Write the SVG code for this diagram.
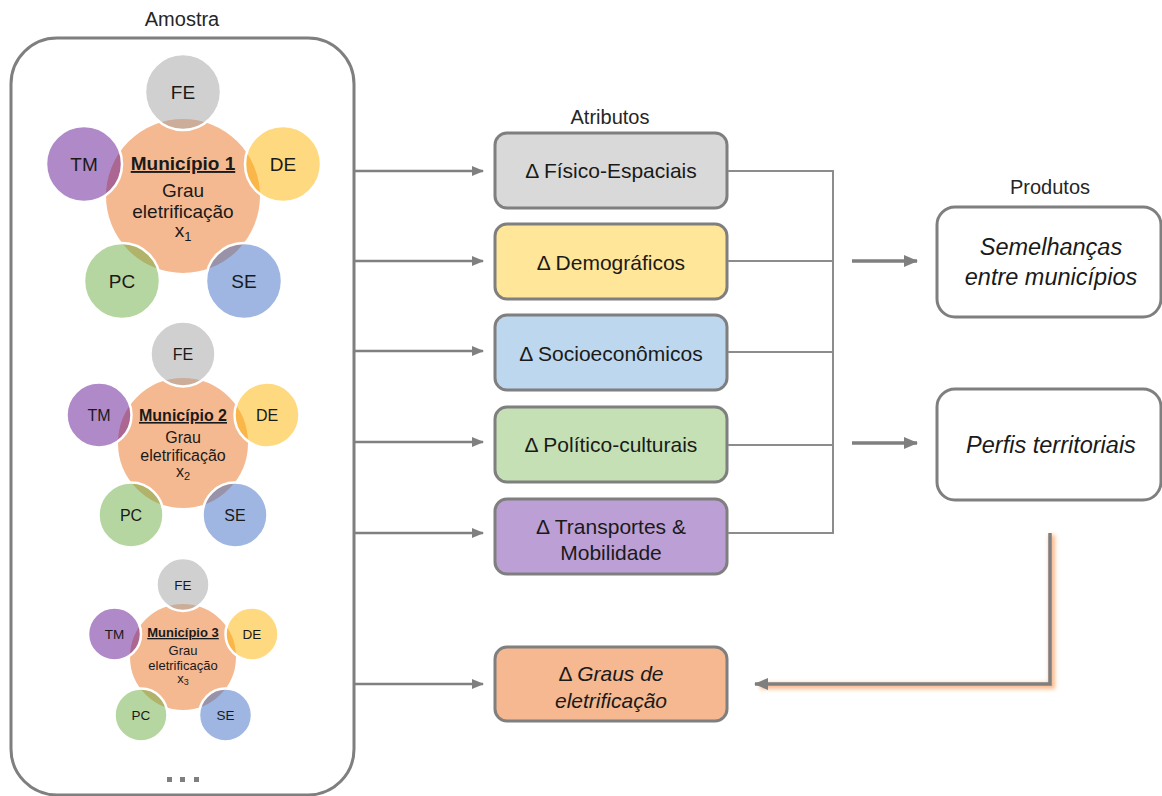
<svg xmlns="http://www.w3.org/2000/svg" width="1162" height="796" viewBox="0 0 1162 796">
  <style>
    text { font-family: "Liberation Sans", Arial, sans-serif; fill: #1a1a1a; }
    .title { font-size: 20px; text-anchor: middle; fill: #262626; }
    .sat { stroke: #ffffff; stroke-width: 2.5; fill-opacity: 0.5; }
    .core { fill: #f5b991; stroke: #ffffff; stroke-width: 2; }
    .fe { fill: #a1a1a1; }
    .tm { fill: #611591; }
    .de { fill: #ffb300; }
    .pc { fill: #6bad41; }
    .se { fill: #3d6dc3; }
    .lbl { text-anchor: middle; }
    .mun { font-weight: bold; text-decoration: underline; text-anchor: middle; }
    .box { stroke: #7f7f7f; stroke-width: 3; }
    .btxt { font-size: 21px; text-anchor: middle; }
    .ptxt { font-size: 23.5px; text-anchor: middle; font-style: italic; }
    .arr { stroke: #808080; stroke-width: 2.5; fill: none; }
    .join { stroke: #8c8c8c; stroke-width: 2; fill: none; }
    .thick { stroke: #7f7f7f; stroke-width: 3.5; fill: none; }
  </style>
  <defs>
    <marker id="head" markerUnits="userSpaceOnUse" markerWidth="12" markerHeight="10" refX="11" refY="5" orient="auto">
      <path d="M0,0 L12,5 L0,10 z" fill="#808080"/>
    </marker>
    <marker id="headBig" markerUnits="userSpaceOnUse" markerWidth="14" markerHeight="12" refX="13" refY="6" orient="auto">
      <path d="M0,0 L14,6 L0,12 z" fill="#7f7f7f"/>
    </marker>
    <filter id="glow" x="-20%" y="-20%" width="140%" height="140%">
      <feGaussianBlur stdDeviation="2.2"/>
    </filter>
  </defs>

  <rect width="1162" height="796" fill="#ffffff"/>

  <!-- Sample container -->
  <g id="amostra">
    <text class="title" x="182" y="26">Amostra</text>
    <rect x="11" y="38" width="343" height="757" rx="46" ry="46" fill="none" stroke="#7f7f7f" stroke-width="3"/>
    <rect x="167" y="777" width="5" height="5" fill="#7f7f7f"/>
    <rect x="180" y="777" width="5" height="5" fill="#7f7f7f"/>
    <rect x="194" y="777" width="5" height="5" fill="#7f7f7f"/>
  </g>

  <!-- Municipality 1 -->
  <g id="municipio1">
    <circle class="core" cx="183" cy="196" r="78"/>
    <circle class="sat fe" cx="183" cy="92" r="38"/>
    <circle class="sat de" cx="283" cy="164" r="38"/>
    <circle class="sat se" cx="244" cy="281" r="38"/>
    <circle class="sat pc" cx="122" cy="281" r="38"/>
    <circle class="sat tm" cx="84" cy="164" r="38"/>
    <g font-size="19">
      <text class="lbl" x="183" y="99">FE</text>
      <text class="lbl" x="283" y="171">DE</text>
      <text class="lbl" x="244" y="288">SE</text>
      <text class="lbl" x="122" y="288">PC</text>
      <text class="lbl" x="84" y="171">TM</text>
      <text class="mun" x="183" y="170">Município 1</text>
      <text class="lbl" x="183" y="197">Grau</text>
      <text class="lbl" x="183" y="218">eletrificação</text>
      <text class="lbl" x="183" y="237">x<tspan font-size="13" dy="4">1</tspan></text>
    </g>
  </g>

  <!-- Municipality 2 -->
  <g id="municipio2">
    <circle class="core" cx="183" cy="443" r="66"/>
    <circle class="sat fe" cx="183" cy="354" r="32.5"/>
    <circle class="sat de" cx="267" cy="415" r="32.5"/>
    <circle class="sat se" cx="235" cy="515" r="32.5"/>
    <circle class="sat pc" cx="131" cy="515" r="32.5"/>
    <circle class="sat tm" cx="99" cy="415" r="32.5"/>
    <g font-size="16">
      <text class="lbl" x="183" y="360">FE</text>
      <text class="lbl" x="267" y="421">DE</text>
      <text class="lbl" x="235" y="521">SE</text>
      <text class="lbl" x="131" y="521">PC</text>
      <text class="lbl" x="99" y="421">TM</text>
      <text class="mun" x="183" y="421">Município 2</text>
      <text class="lbl" x="183" y="443">Grau</text>
      <text class="lbl" x="183" y="461">eletrificação</text>
      <text class="lbl" x="183" y="477">x<tspan font-size="11" dy="3">2</tspan></text>
    </g>
  </g>

  <!-- Municipality 3 -->
  <g id="municipio3">
    <circle class="core" cx="183" cy="657" r="54"/>
    <circle class="sat fe" cx="183" cy="584.5" r="26.5"/>
    <circle class="sat de" cx="252" cy="634" r="26.5"/>
    <circle class="sat se" cx="225.5" cy="715" r="26.5"/>
    <circle class="sat pc" cx="141" cy="715" r="26.5"/>
    <circle class="sat tm" cx="114.5" cy="634" r="26.5"/>
    <g font-size="13.5">
      <text class="lbl" x="183" y="589.5">FE</text>
      <text class="lbl" x="252" y="639">DE</text>
      <text class="lbl" x="225.5" y="720">SE</text>
      <text class="lbl" x="141" y="720">PC</text>
      <text class="lbl" x="114.5" y="639">TM</text>
    </g>
    <g font-size="13">
      <text class="mun" x="183" y="637">Município 3</text>
      <text class="lbl" x="183" y="655">Grau</text>
      <text class="lbl" x="183" y="670">eletrificação</text>
      <text class="lbl" x="183" y="683" fill="#555555">x<tspan font-size="9" dy="2">3</tspan></text>
    </g>
  </g>

  <!-- Attributes -->
  <text class="title" x="610" y="124">Atributos</text>
  <g id="attr-fisico">
    <rect class="box" x="495" y="133" width="232" height="75" rx="12" fill="#d9d9d9"/>
    <text class="btxt" x="611" y="178">Δ Físico-Espaciais</text>
  </g>
  <g id="attr-demograficos">
    <rect class="box" x="495" y="224" width="232" height="75" rx="12" fill="#ffe699"/>
    <text class="btxt" x="611" y="270">Δ Demográficos</text>
  </g>
  <g id="attr-socio">
    <rect class="box" x="495" y="315" width="232" height="75" rx="12" fill="#bdd7ee"/>
    <text class="btxt" x="611" y="361">Δ Socioeconômicos</text>
  </g>
  <g id="attr-politico">
    <rect class="box" x="495" y="407" width="232" height="75" rx="12" fill="#c5e0b4"/>
    <text class="btxt" x="611" y="452">Δ Político-culturais</text>
  </g>
  <g id="attr-transportes">
    <rect class="box" x="495" y="499" width="232" height="75" rx="12" fill="#bc9fd4"/>
    <text class="btxt" x="611" y="534">Δ Transportes &amp;</text>
    <text class="btxt" x="611" y="560">Mobilidade</text>
  </g>
  <g id="attr-graus">
    <rect class="box" x="495" y="647" width="232" height="74" rx="12" fill="#f5b891"/>
    <text class="btxt" x="611" y="681">Δ <tspan font-style="italic">Graus de</tspan></text>
    <text class="btxt" x="611" y="708" font-style="italic">eletrificação</text>
  </g>

  <!-- Products -->
  <text class="title" x="1050" y="194">Produtos</text>
  <g id="prod-semelhancas">
    <rect class="box" x="937" y="207" width="224" height="110" rx="18" fill="#ffffff"/>
    <text class="ptxt" x="1051" y="255">Semelhanças</text>
    <text class="ptxt" x="1051" y="285">entre municípios</text>
  </g>
  <g id="prod-perfis">
    <rect class="box" x="937" y="389" width="224" height="111" rx="18" fill="#ffffff"/>
    <text class="ptxt" x="1051" y="453">Perfis territoriais</text>
  </g>

  <!-- Connectors -->
  <g id="connectors">
    <line class="arr" x1="355" y1="171" x2="483" y2="171" marker-end="url(#head)"/>
    <line class="arr" x1="355" y1="261" x2="483" y2="261" marker-end="url(#head)"/>
    <line class="arr" x1="355" y1="351" x2="483" y2="351" marker-end="url(#head)"/>
    <line class="arr" x1="355" y1="442" x2="483" y2="442" marker-end="url(#head)"/>
    <line class="arr" x1="355" y1="533" x2="483" y2="533" marker-end="url(#head)"/>
    <line class="arr" x1="355" y1="684" x2="483" y2="684" marker-end="url(#head)"/>

    <polyline class="join" points="728,171 833,171 833,533 728,533"/>
    <line class="join" x1="728" y1="261" x2="833" y2="261"/>
    <line class="join" x1="728" y1="352" x2="833" y2="352"/>
    <line class="join" x1="728" y1="445" x2="833" y2="445"/>

    <line class="thick" x1="852" y1="261" x2="917" y2="261" marker-end="url(#headBig)"/>
    <line class="thick" x1="852" y1="443" x2="917" y2="443" marker-end="url(#headBig)"/>

    <polyline points="1052,535 1052,686 760,686" fill="none" stroke="#f8a66b" stroke-width="6" stroke-opacity="0.8" filter="url(#glow)"/>
    <polyline class="thick" points="1050,533 1050,684 755,684" stroke-width="3" marker-end="url(#headBig)"/>
  </g>
</svg>
